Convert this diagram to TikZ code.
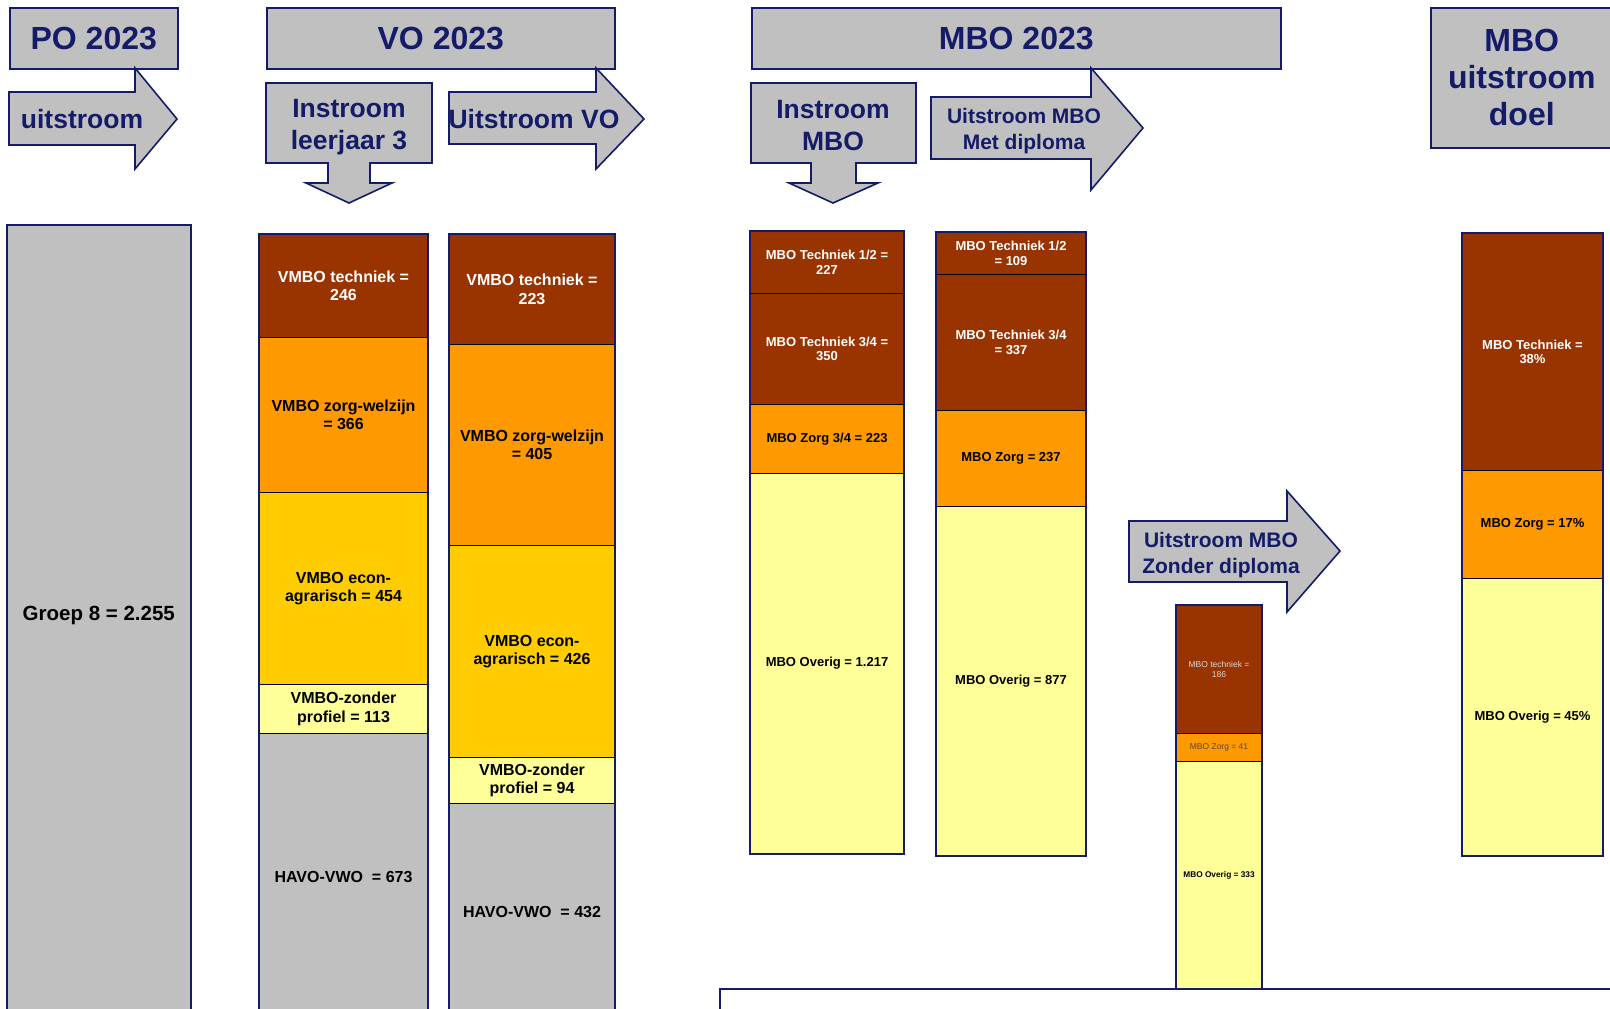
\documentclass[tikz,border=0pt]{standalone}
\usepackage{fontspec}
\setmainfont{Liberation Sans}
\definecolor{navy}{RGB}{20,28,105}
\definecolor{gbox}{RGB}{192,192,192}
\definecolor{segbrown}{RGB}{153,51,0}
\definecolor{segorange}{RGB}{255,153,0}
\definecolor{seggold}{RGB}{255,204,0}
\definecolor{segyellow}{RGB}{255,255,153}
\tikzset{
  hdrbox/.style={draw=navy, line width=1.6pt, fill=gbox, anchor=north west, inner sep=0pt},
  arrowshape/.style={draw=navy, line width=1.6pt, fill=gbox, line join=miter},
  bigtext/.style={text=navy, font=\bfseries\fontsize{32}{37}\selectfont, align=center},
  midtext/.style={text=navy, font=\bfseries\fontsize{26.5}{32}\selectfont, align=center},
  smalltext/.style={text=navy, font=\bfseries\fontsize{21}{26}\selectfont, align=center},
  seg/.style={draw=black, line width=1pt, anchor=north west, inner sep=0pt, align=center},
  volabel/.style={font=\bfseries\fontsize{16}{18.5}\selectfont},
  mbolabel/.style={font=\bfseries\fontsize{13}{14.5}\selectfont},
  tinylabel/.style={font=\fontsize{8.5}{10}\selectfont},
  tinybold/.style={font=\bfseries\fontsize{8.3}{10}\selectfont},
  colline/.style={draw=navy, line width=1.8pt},
}
\begin{document}
\begin{tikzpicture}[x=1pt,y=-1pt]
\useasboundingbox (0,0) rectangle (1610,1009);
\clip (0,0) rectangle (1610,1009);
\fill[white] (0,0) rectangle (1610,1009);

% ---------- headers ----------
\node[hdrbox, minimum width=168, minimum height=61, bigtext] (po) at (9,7) {PO 2023};
\node[hdrbox, minimum width=348, minimum height=61, bigtext] (vo) at (266,7) {VO 2023};
\node[hdrbox, minimum width=529, minimum height=61, bigtext] (mbo) at (751,7) {MBO 2023};
\node[hdrbox, minimum width=182, minimum height=140, bigtext] (doel) at (1430,7) {MBO\\uitstroom\\doel};

% ---------- arrows ----------
\draw[arrowshape] (9,92) -- (135,92) -- (135,68) -- (177,119) -- (135,169) -- (135,145) -- (9,145) -- cycle;
\node[midtext] (uit) at (82,119.5) {uitstroom};

\draw[arrowshape] (266,83) -- (432,83) -- (432,163) -- (370,163) -- (370,183) -- (392,183) -- (349,203) -- (306,183) -- (328,183) -- (328,163) -- (266,163) -- cycle;
\node[midtext] (inl3) at (349,127) {Instroom\\leerjaar 3};

\draw[arrowshape] (449,92) -- (596,92) -- (596,68) -- (644,119) -- (596,169) -- (596,144) -- (449,144) -- cycle;
\node[midtext] (uitvo) at (534,119.5) {Uitstroom VO};

\draw[arrowshape] (751,83) -- (916,83) -- (916,163) -- (856,163) -- (856,183) -- (878,183) -- (833,203) -- (789,183) -- (811,183) -- (811,163) -- (751,163) -- cycle;
\node[midtext] (inmbo) at (833,126) {Instroom\\MBO};

\draw[arrowshape] (931,97) -- (1091,97) -- (1091,68) -- (1143,128) -- (1091,190) -- (1091,159) -- (931,159) -- cycle;
\node[smalltext] (metdip) at (1024,131) {Uitstroom MBO\\Met diploma};

\draw[arrowshape] (1129,521) -- (1287,521) -- (1287,491) -- (1340,551) -- (1287,612) -- (1287,582) -- (1129,582) -- cycle;
\node[smalltext] (zondip) at (1221,555) {Uitstroom MBO\\Zonder diploma};

% ---------- PO column ----------
\node[hdrbox, minimum width=184, minimum height=795, font=\bfseries\fontsize{20.5}{25}\selectfont, text=black] (groep8) at (6,224) {\raisebox{17.5pt}{Groep 8 = 2.255}};

% ---------- VO column 1 ----------
\node[seg, fill=segbrown, text=white, volabel, minimum width=168, minimum height=103] (t1) at (259,234) {VMBO techniek =\\246};
\node[seg, fill=segorange, volabel, minimum width=168, minimum height=155] (z1) at (259,337) {VMBO zorg-welzijn\\= 366};
\node[seg, fill=seggold, volabel, minimum width=168, minimum height=192] (e1) at (259,492) {VMBO econ-\\agrarisch = 454};
\node[seg, fill=segyellow, volabel, minimum width=168, minimum height=49] (p1) at (259,684) {VMBO-zonder\\profiel = 113};
\node[seg, fill=gbox, volabel, minimum width=168, minimum height=286] (h1) at (259,733) {HAVO-VWO\ \ = 673};
\draw[colline] (t1.north west) rectangle (h1.south east);

% ---------- VO column 2 ----------
\node[seg, fill=segbrown, text=white, volabel, minimum width=165, minimum height=110] (t2) at (449,234) {VMBO techniek =\\223};
\node[seg, fill=segorange, volabel, minimum width=165, minimum height=201] (z2) at (449,344) {VMBO zorg-welzijn\\= 405};
\node[seg, fill=seggold, volabel, minimum width=165, minimum height=212] (e2) at (449,545) {VMBO econ-\\agrarisch = 426};
\node[seg, fill=segyellow, volabel, minimum width=165, minimum height=46] (p2) at (449,757) {VMBO-zonder\\profiel = 94};
\node[seg, fill=gbox, volabel, minimum width=165, minimum height=216] (h2) at (449,803) {HAVO-VWO\ \ = 432};
\draw[colline] (t2.north west) rectangle (h2.south east);

% ---------- MBO instroom ----------
\node[seg, fill=segbrown, text=white, mbolabel, minimum width=153, minimum height=62] (mt12) at (750,231) {MBO Techniek 1/2 =\\227};
\node[seg, fill=segbrown, text=white, mbolabel, minimum width=153, minimum height=111] (mt34) at (750,293) {MBO Techniek 3/4 =\\350};
\node[seg, fill=segorange, mbolabel, minimum width=153, minimum height=69] (mz) at (750,404) {MBO Zorg 3/4 = 223};
\node[seg, fill=segyellow, mbolabel, minimum width=153, minimum height=380] (mo) at (750,473) {\raisebox{-4pt}{MBO Overig = 1.217}};
\draw[colline] (mt12.north west) rectangle (mo.south east);

% ---------- MBO met diploma ----------
\node[seg, fill=segbrown, text=white, mbolabel, minimum width=149, minimum height=42] (dt12) at (936,232) {MBO Techniek 1/2\\= 109};
\node[seg, fill=segbrown, text=white, mbolabel, minimum width=149, minimum height=136] (dt34) at (936,274) {MBO Techniek 3/4\\= 337};
\node[seg, fill=segorange, mbolabel, minimum width=149, minimum height=96] (dz) at (936,410) {MBO Zorg = 237};
\node[seg, fill=segyellow, mbolabel, minimum width=149, minimum height=349] (do) at (936,506) {\raisebox{-4pt}{MBO Overig = 877}};
\draw[colline] (dt12.north west) rectangle (do.south east);

% ---------- MBO zonder diploma ----------
\node[seg, fill=segbrown, text=black!15, tinylabel, minimum width=85, minimum height=128] (zt) at (1176,605) {MBO techniek =\\186};
\node[seg, fill=segorange, text=black!70, tinylabel, minimum width=85, minimum height=28] (zz) at (1176,733) {MBO Zorg = 41};
\node[seg, fill=segyellow, tinybold, minimum width=85, minimum height=227] (zo) at (1176,761) {MBO Overig = 333};
\draw[colline] (zt.north west) rectangle (zo.south east);

% ---------- MBO doel ----------
\node[seg, fill=segbrown, text=white, mbolabel, minimum width=140, minimum height=237] (gt) at (1462,233) {MBO Techniek =\\38\%};
\node[seg, fill=segorange, mbolabel, minimum width=140, minimum height=108] (gz) at (1462,470) {MBO Zorg = 17\%};
\node[seg, fill=segyellow, mbolabel, minimum width=140, minimum height=277] (go) at (1462,578) {MBO Overig = 45\%};
\draw[colline] (gt.north west) rectangle (go.south east);

% ---------- bottom box ----------
\draw[colline, fill=white] (720,989) rectangle (1630,1040);
\end{tikzpicture}
\end{document}
